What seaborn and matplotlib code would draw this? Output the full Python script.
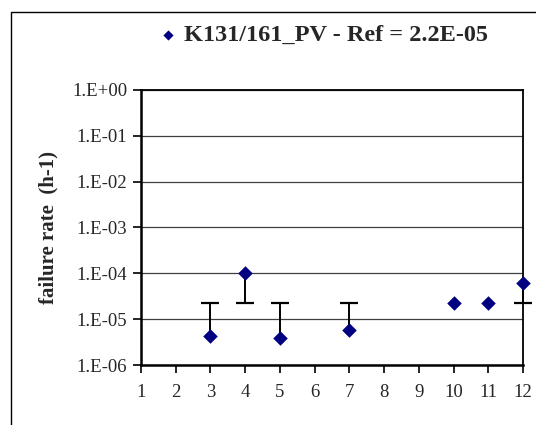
import matplotlib
matplotlib.use("Agg")
import matplotlib.pyplot as plt
import seaborn as sns
import pandas as pd
from matplotlib.patches import Rectangle

# ---- data ----
x_ticks = [1, 2, 3, 4, 5, 6, 7, 8, 9, 10, 11, 12]
y_ticks = [1e-6, 1e-5, 1e-4, 1e-3, 1e-2, 1e-1, 1e0]
y_tick_labels = ["1.E-06", "1.E-05", "1.E-04", "1.E-03", "1.E-02", "1.E-01", "1.E+00"]
x_points = [3, 4, 5, 7, 10, 11, 12]
values = [4.2e-6, 1.0e-4, 3.9e-6, 5.9e-6, 2.2e-5, 2.2e-5, 6.2e-5]
ref_value = 2.2e-5
series_label = "K131/161_PV - Ref = 2.2E-05"
y_label = "failure rate  (h-1)"

df = pd.DataFrame({"x": x_points, "rate": values})

sns.set_style("white")
plt.rcParams["font.family"] = ["Liberation Serif", "DejaVu Serif"]

fig = plt.figure(figsize=(5.36, 4.25), dpi=100)
ax = fig.add_axes([141 / 536, 60 / 425, (523 - 141) / 536, (365 - 90) / 425])

# outer chart border
fig.patches.append(Rectangle((11 / 536, -0.05), 1.2, (425 - 12) / 425 + 0.05,
                             transform=fig.transFigure, fill=False,
                             edgecolor="black", linewidth=1.0, zorder=0))

# error bars towards the reference value (cap at reference end)
for xi, v in zip(x_points, values):
    if abs(v - ref_value) / ref_value > 0.02:
        ax.vlines(xi, min(v, ref_value), max(v, ref_value), color="black",
                  linewidth=1.4, clip_on=False, zorder=3)
        ax.plot([xi], [ref_value], marker="_", markersize=13, markeredgewidth=1.6,
                color="black", clip_on=False, zorder=3)

sns.scatterplot(data=df, x="x", y="rate", ax=ax, marker="D", s=55,
                color="#000080", edgecolor="#000080", linewidth=0,
                label=series_label, zorder=4, clip_on=False)

ax.set_yscale("log")
ax.set_ylim(1e-6, 1e0)
ax.set_xlim(1, 12)
ax.set_yticks(y_ticks)
ax.set_yticklabels(y_tick_labels)
ax.minorticks_off()
ax.set_xticks(x_ticks)
ax.set_xticklabels([str(t) for t in x_ticks])
ax.tick_params(axis="both", labelsize=13.5, direction="out", length=6,
               width=1.2, color="black", left=True, bottom=True)
ax.tick_params(axis="x", pad=8)
ax.tick_params(axis="y", pad=4)
ax.yaxis.grid(True, color="#404040", linewidth=0.9)
ax.xaxis.grid(False)
ax.set_xlabel("")
ax.set_ylabel(y_label, fontsize=15, fontweight="bold", labelpad=10)

for side in ["left", "bottom"]:
    ax.spines[side].set_linewidth(1.8)
    ax.spines[side].set_color("black")
for side in ["top", "right"]:
    ax.spines[side].set_linewidth(1.3)
    ax.spines[side].set_color("black")
    ax.spines[side].set_visible(True)

leg = ax.legend(loc="center", bbox_to_anchor=(0.601, 0.917),
                bbox_transform=fig.transFigure, frameon=False,
                prop={"size": 17.5, "weight": "bold"}, handletextpad=0.15,
                markerscale=0.7, handlelength=1.0)

fig.savefig("out.png", dpi=100)
